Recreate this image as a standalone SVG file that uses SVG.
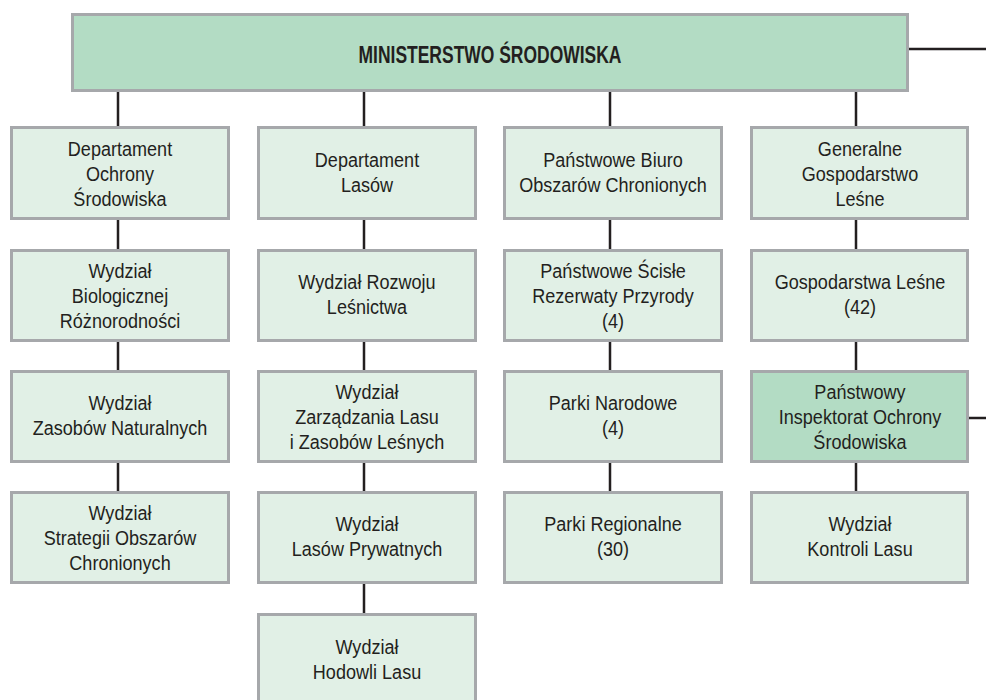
<svg xmlns="http://www.w3.org/2000/svg" width="986" height="700" viewBox="0 0 986 700">
  <style>
    .box { fill: #e1f0e6; stroke: #a6a8ab; stroke-width: 3; }
    .box.dark { fill: #b3dcc4; }
    .lbl { font-family: "Liberation Sans", Arial, sans-serif; font-size: 21px; fill: #231f20; text-anchor: middle; }
    .title { font-family: "Liberation Sans", Arial, sans-serif; font-size: 23px; font-weight: bold; fill: #231f20; text-anchor: middle; }
    .wire { stroke: #231f20; stroke-width: 2.5; fill: none; }
  </style>
  <rect width="986" height="700" fill="#ffffff"/>

  <!-- connectors -->
  <g id="connectors" class="wire">
    <path d="M909 49H986"/>
    <path d="M969 418H986"/>
    <!-- column 1 -->
    <path d="M118 92V126M118 220V249M118 342V370M118 463V491"/>
    <!-- column 2 -->
    <path d="M364 92V126M364 220V249M364 342V370M364 463V491M364 584V613"/>
    <!-- column 3 -->
    <path d="M610 92V126M610 220V249M610 342V370M610 463V491"/>
    <!-- column 4 -->
    <path d="M856 92V126M856 220V249M856 342V370M856 463V491"/>
  </g>

  <!-- top node -->
  <g id="ministerstwo">
    <rect class="box dark" x="72.5" y="14.5" width="835" height="76"/>
    <text class="title" transform="translate(490,0) scale(0.76,1)" x="0" y="63">MINISTERSTWO ŚRODOWISKA</text>
  </g>

  <!-- column 1 -->
  <g id="dep-ochrony">
    <rect class="box" x="11.5" y="127.5" width="217" height="91"/>
    <text class="lbl" transform="translate(120,0) scale(0.86,1)"><tspan x="0" y="156">Departament</tspan><tspan x="0" y="181">Ochrony</tspan><tspan x="0" y="206">Środowiska</tspan></text>
  </g>
  <g id="wydz-bio">
    <rect class="box" x="11.5" y="250.5" width="217" height="90"/>
    <text class="lbl" transform="translate(120,0) scale(0.86,1)"><tspan x="0" y="278">Wydział</tspan><tspan x="0" y="303">Biologicznej</tspan><tspan x="0" y="328">Różnorodności</tspan></text>
  </g>
  <g id="wydz-zasobow">
    <rect class="box" x="11.5" y="371.5" width="217" height="90"/>
    <text class="lbl" transform="translate(120,0) scale(0.86,1)"><tspan x="0" y="410">Wydział</tspan><tspan x="0" y="435">Zasobów Naturalnych</tspan></text>
  </g>
  <g id="wydz-strategii">
    <rect class="box" x="11.5" y="492.5" width="217" height="90"/>
    <text class="lbl" transform="translate(120,0) scale(0.86,1)"><tspan x="0" y="520">Wydział</tspan><tspan x="0" y="545">Strategii Obszarów</tspan><tspan x="0" y="570">Chronionych</tspan></text>
  </g>

  <!-- column 2 -->
  <g id="dep-lasow">
    <rect class="box" x="258.5" y="127.5" width="217" height="91"/>
    <text class="lbl" transform="translate(367,0) scale(0.86,1)"><tspan x="0" y="167">Departament</tspan><tspan x="0" y="192">Lasów</tspan></text>
  </g>
  <g id="wydz-rozwoju">
    <rect class="box" x="258.5" y="250.5" width="217" height="90"/>
    <text class="lbl" transform="translate(367,0) scale(0.86,1)"><tspan x="0" y="289">Wydział Rozwoju</tspan><tspan x="0" y="314">Leśnictwa</tspan></text>
  </g>
  <g id="wydz-zarzadzania">
    <rect class="box" x="258.5" y="371.5" width="217" height="90"/>
    <text class="lbl" transform="translate(367,0) scale(0.86,1)"><tspan x="0" y="399">Wydział</tspan><tspan x="0" y="424">Zarządzania Lasu</tspan><tspan x="0" y="449">i Zasobów Leśnych</tspan></text>
  </g>
  <g id="wydz-prywatnych">
    <rect class="box" x="258.5" y="492.5" width="217" height="90"/>
    <text class="lbl" transform="translate(367,0) scale(0.86,1)"><tspan x="0" y="531">Wydział</tspan><tspan x="0" y="556">Lasów Prywatnych</tspan></text>
  </g>
  <g id="wydz-hodowli">
    <rect class="box" x="258.5" y="614.5" width="217" height="100"/>
    <text class="lbl" transform="translate(367,0) scale(0.86,1)"><tspan x="0" y="654">Wydział</tspan><tspan x="0" y="679">Hodowli Lasu</tspan></text>
  </g>

  <!-- column 3 -->
  <g id="biuro">
    <rect class="box" x="504.5" y="127.5" width="217" height="91"/>
    <text class="lbl" transform="translate(613,0) scale(0.86,1)"><tspan x="0" y="167">Państwowe Biuro</tspan><tspan x="0" y="192">Obszarów Chronionych</tspan></text>
  </g>
  <g id="rezerwaty">
    <rect class="box" x="504.5" y="250.5" width="217" height="90"/>
    <text class="lbl" transform="translate(613,0) scale(0.86,1)"><tspan x="0" y="278">Państwowe Ścisłe</tspan><tspan x="0" y="303">Rezerwaty Przyrody</tspan><tspan x="0" y="328">(4)</tspan></text>
  </g>
  <g id="parki-narodowe">
    <rect class="box" x="504.5" y="371.5" width="217" height="90"/>
    <text class="lbl" transform="translate(613,0) scale(0.86,1)"><tspan x="0" y="410">Parki Narodowe</tspan><tspan x="0" y="435">(4)</tspan></text>
  </g>
  <g id="parki-regionalne">
    <rect class="box" x="504.5" y="492.5" width="217" height="90"/>
    <text class="lbl" transform="translate(613,0) scale(0.86,1)"><tspan x="0" y="531">Parki Regionalne</tspan><tspan x="0" y="556">(30)</tspan></text>
  </g>

  <!-- column 4 -->
  <g id="gospodarstwo">
    <rect class="box" x="751.5" y="127.5" width="216" height="91"/>
    <text class="lbl" transform="translate(860,0) scale(0.86,1)"><tspan x="0" y="156">Generalne</tspan><tspan x="0" y="181">Gospodarstwo</tspan><tspan x="0" y="206">Leśne</tspan></text>
  </g>
  <g id="gospodarstwa-lesne">
    <rect class="box" x="751.5" y="250.5" width="216" height="90"/>
    <text class="lbl" transform="translate(860,0) scale(0.86,1)"><tspan x="0" y="289">Gospodarstwa Leśne</tspan><tspan x="0" y="314">(42)</tspan></text>
  </g>
  <g id="inspektorat">
    <rect class="box dark" x="751.5" y="371.5" width="216" height="90"/>
    <text class="lbl" transform="translate(860,0) scale(0.86,1)"><tspan x="0" y="399">Państwowy</tspan><tspan x="0" y="424">Inspektorat Ochrony</tspan><tspan x="0" y="449">Środowiska</tspan></text>
  </g>
  <g id="wydz-kontroli">
    <rect class="box" x="751.5" y="492.5" width="216" height="90"/>
    <text class="lbl" transform="translate(860,0) scale(0.86,1)"><tspan x="0" y="531">Wydział</tspan><tspan x="0" y="556">Kontroli Lasu</tspan></text>
  </g>
</svg>
